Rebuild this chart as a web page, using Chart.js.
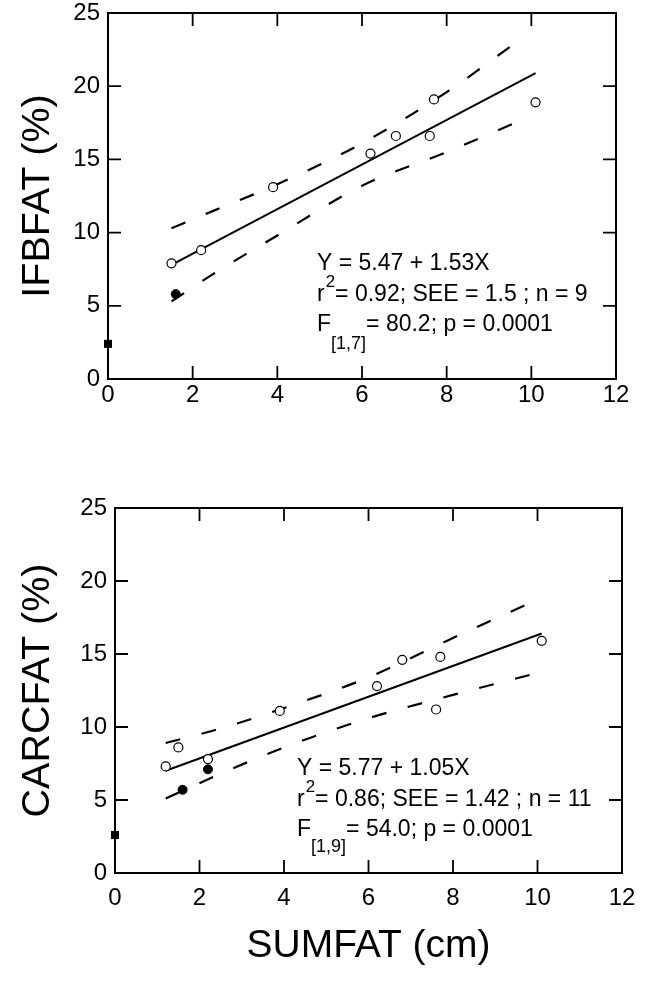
<!DOCTYPE html>
<html>
<head>
<meta charset="utf-8">
<script src="https://cdn.jsdelivr.net/npm/chart.js@4.4.0/dist/chart.umd.min.js"></script>
<style>
  html, body { margin: 0; padding: 0; background: #fff; }
  #wrap { position: relative; width: 652px; height: 986px; }
  canvas { position: absolute; left: 0; }
  #topChart { top: 0; }
  #bottomChart { top: 440px; }
</style>
</head>
<body>
<div id="wrap">
  <canvas id="topChart" width="652" height="430"></canvas>
  <canvas id="bottomChart" width="652" height="546"></canvas>
</div>
<script>
// shared axes
const xTicks = [0, 2, 4, 6, 8, 10, 12]
const yTicks = [0, 5, 10, 15, 20, 25]

// IFBFAT panel
const ifbOpenX = [1.5, 2.2, 3.9, 6.2, 6.8, 7.6, 7.7, 10.1]
const ifbOpenY = [7.9, 8.8, 13.1, 15.4, 16.6, 16.6, 19.1, 18.9]
const ifbFilledX = [1.6]
const ifbFilledY = [5.8]
const ifbSquareX = [0]
const ifbSquareY = [2.4]
const ifbFitX = [1.5, 10.1]
const ifbFitY = [7.8, 20.9]
const ifbUpperX = [1.5, 2.5, 4, 6, 8, 9.6]
const ifbUpperY = [10.3, 11.5, 13.3, 16.1, 19.6, 22.9]
const ifbLowerX = [1.5, 2.5, 4, 6, 8, 9.7]
const ifbLowerY = [5.3, 7.2, 9.8, 13.2, 15.5, 17.6]

// CARCFAT panel
const carcOpenX = [1.2, 1.5, 2.2, 3.9, 6.2, 6.8, 7.6, 7.7, 10.1]
const carcOpenY = [7.3, 8.6, 7.8, 11.1, 12.8, 14.6, 11.2, 14.8, 15.9]
const carcFilledX = [1.6, 2.2]
const carcFilledY = [5.7, 7.1]
const carcSquareX = [0]
const carcSquareY = [2.6]
const carcFitX = [1.2, 10.1]
const carcFitY = [7.0, 16.4]
const carcUpperX = [1.2, 2.5, 4, 6, 8, 9.9]
const carcUpperY = [8.9, 9.9, 11.3, 13.4, 16.1, 18.6]
const carcLowerX = [1.2, 2.5, 4, 6, 8, 10]
const carcLowerY = [5.1, 6.8, 8.6, 10.6, 12.2, 13.7]

const FONT = "'Liberation Sans', Arial, Helvetica, sans-serif"
const pts = (xs, ys) => xs.map((x, i) => ({ x: x, y: ys[i] }))

// caixa e marcas de escala para dentro
const framePlugin = {
  id: "frame",
  beforeDatasetsDraw(chart) {
    const { ctx, chartArea: a, scales } = chart
    ctx.save()
    ctx.strokeStyle = "#000"
    ctx.lineWidth = 2
    ctx.strokeRect(a.left, a.top, a.right - a.left, a.bottom - a.top)
    ctx.lineWidth = 1.8
    ctx.beginPath()
    xTicks.slice(1, -1).forEach((v) => {
      const px = scales.x.getPixelForValue(v)
      ctx.moveTo(px, a.bottom); ctx.lineTo(px, a.bottom - 13)
      ctx.moveTo(px, a.top); ctx.lineTo(px, a.top + 13)
    })
    yTicks.slice(1, -1).forEach((v) => {
      const py = scales.y.getPixelForValue(v)
      ctx.moveTo(a.left, py); ctx.lineTo(a.left + 13, py)
      ctx.moveTo(a.right, py); ctx.lineTo(a.right - 13, py)
    })
    ctx.stroke()
    ctx.restore()
  },
}

// texto da equação
const notePlugin = {
  id: "note",
  afterDraw(chart, args, opts) {
    const ctx = chart.ctx
    ctx.save()
    ctx.fillStyle = "#000"
    ctx.textBaseline = "alphabetic"
    opts.lines.forEach((line, i) => {
      let x = opts.x
      const base = opts.y + i * opts.step
      line.forEach((run) => {
        ctx.font = run.size + "px " + FONT
        ctx.fillText(run.t, x, base + (run.dy || 0))
        x += ctx.measureText(run.t).width + (run.gap || 0)
      })
    })
    ctx.restore()
  },
}

function makePanel(id, cfg) {
  const ctx = document.getElementById(id).getContext("2d")
  const dash = [15, 22]
  return new Chart(ctx, {
    type: "scatter",
    data: {
      datasets: [
        { data: pts(cfg.openX, cfg.openY), pointStyle: "circle", pointRadius: 4.5, pointBackgroundColor: "#fff", pointBorderColor: "#000", pointBorderWidth: 1.2, order: 0 },
        { data: pts(cfg.filledX, cfg.filledY), pointStyle: "circle", pointRadius: 4.5, pointBackgroundColor: "#000", pointBorderColor: "#000", pointBorderWidth: 1, order: 0 },
        { data: pts(cfg.squareX, cfg.squareY), pointStyle: "rect", pointRadius: 5.7, pointBackgroundColor: "#000", pointBorderColor: "#000", pointBorderWidth: 0, order: 0 },
        { data: pts(cfg.fitX, cfg.fitY), showLine: true, pointRadius: 0, borderColor: "#000", borderWidth: 2, order: 1 },
        { data: pts(cfg.upperX, cfg.upperY), showLine: true, pointRadius: 0, borderColor: "#000", borderWidth: 2.2, borderDash: dash, cubicInterpolationMode: "monotone", order: 1 },
        { data: pts(cfg.lowerX, cfg.lowerY), showLine: true, pointRadius: 0, borderColor: "#000", borderWidth: 2.2, borderDash: dash, cubicInterpolationMode: "monotone", order: 1 },
      ],
    },
    options: {
      responsive: false,
      animation: false,
      clip: false,
      devicePixelRatio: 1,
      layout: { padding: { top: cfg.padTop, right: cfg.padRight, left: 0, bottom: 0 } },
      scales: {
        x: {
          type: "linear",
          min: 0,
          max: 12,
          afterBuildTicks: (s) => { s.ticks = xTicks.map((v) => ({ value: v })) },
          afterFit: (s) => { s.height = cfg.xHeight; s.paddingLeft = 0; s.paddingRight = 0 },
          grid: { display: false, drawTicks: false },
          border: { display: false },
          ticks: { color: "#000", padding: cfg.xTickPad, maxRotation: 0, autoSkip: false, font: { family: FONT, size: 24 } },
          title: cfg.xTitle
            ? { display: true, text: cfg.xTitle, color: "#000", font: { family: FONT, size: 39 }, padding: { top: 0, bottom: 16 } }
            : { display: false },
        },
        y: {
          type: "linear",
          min: 0,
          max: 25,
          afterBuildTicks: (s) => { s.ticks = yTicks.map((v) => ({ value: v })) },
          afterFit: (s) => { s.width = cfg.yWidth; s.paddingTop = 0; s.paddingBottom = 0 },
          grid: { display: false, drawTicks: false },
          border: { display: false },
          ticks: { color: "#000", padding: 8, font: { family: FONT, size: 24 } },
          title: { display: true, text: cfg.yTitle, color: "#000", font: { family: FONT, size: 39.5 }, padding: { top: 14, bottom: 0 } },
        },
      },
      plugins: {
        legend: { display: false },
        tooltip: { enabled: false },
        note: cfg.note,
      },
    },
    plugins: [framePlugin, notePlugin],
  })
}

makePanel("topChart", {
  openX: ifbOpenX, openY: ifbOpenY,
  filledX: ifbFilledX, filledY: ifbFilledY,
  squareX: ifbSquareX, squareY: ifbSquareY,
  fitX: ifbFitX, fitY: ifbFitY,
  upperX: ifbUpperX, upperY: ifbUpperY,
  lowerX: ifbLowerX, lowerY: ifbLowerY,
  padTop: 13, padRight: 36, xHeight: 51, yWidth: 108, xTickPad: 2,
  yTitle: "IFBFAT (%)",
  note: {
    x: 317, y: 270, step: 30.5,
    lines: [
      [{ t: "Y = 5.47 + 1.53X", size: 23 }],
      [{ t: "r", size: 23, gap: 1 }, { t: "2", size: 17, dy: -14, gap: 0 }, { t: "= 0.92; SEE = 1.5 ; n = 9", size: 23 }],
      [{ t: "F", size: 23 }, { t: "[1,7]", size: 18, dy: 18 }, { t: "= 80.2; p = 0.0001", size: 23 }],
    ],
  },
})

makePanel("bottomChart", {
  openX: carcOpenX, openY: carcOpenY,
  filledX: carcFilledX, filledY: carcFilledY,
  squareX: carcSquareX, squareY: carcSquareY,
  fitX: carcFitX, fitY: carcFitY,
  upperX: carcUpperX, upperY: carcUpperY,
  lowerX: carcLowerX, lowerY: carcLowerY,
  padTop: 68, padRight: 30, xHeight: 113, yWidth: 115, xTickPad: 11,
  yTitle: "CARCFAT (%)",
  xTitle: "SUMFAT (cm)",
  note: {
    x: 297, y: 335, step: 30.5,
    lines: [
      [{ t: "Y = 5.77 + 1.05X", size: 23 }],
      [{ t: "r", size: 23, gap: 1 }, { t: "2", size: 17, dy: -14, gap: 0 }, { t: "= 0.86; SEE = 1.42 ; n = 11", size: 23 }],
      [{ t: "F", size: 23 }, { t: "[1,9]", size: 18, dy: 16 }, { t: "= 54.0; p = 0.0001", size: 23 }],
    ],
  },
})
</script>
</body>
</html>
